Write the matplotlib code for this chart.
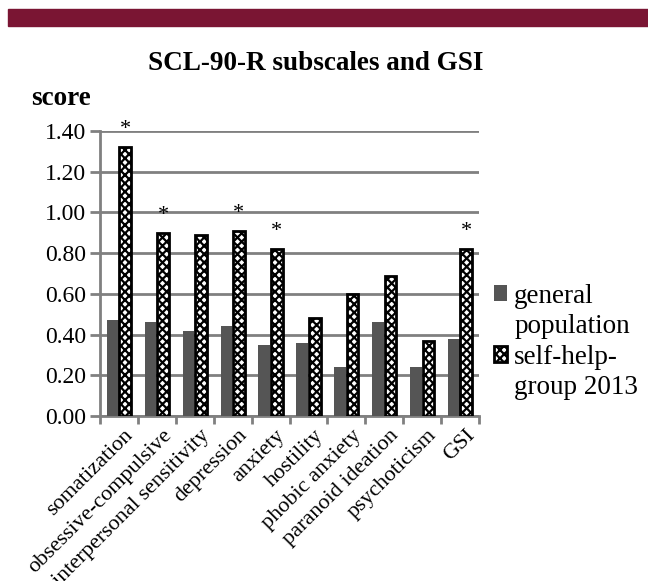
import numpy as np
import matplotlib.pyplot as plt
import matplotlib.transforms as mtrans
from matplotlib.patches import Rectangle, Patch

# dados
categorias = ['somatization', 'obsessive-compulsive', 'interpersonal sensitivity',
              'depression', 'anxiety', 'hostility', 'phobic anxiety',
              'paranoid ideation', 'psychoticism', 'GSI']
geral = [0.47, 0.46, 0.42, 0.44, 0.35, 0.36, 0.24, 0.46, 0.24, 0.38]
autoajuda = [1.32, 0.90, 0.89, 0.91, 0.82, 0.48, 0.60, 0.69, 0.37, 0.82]
signif = [True, True, False, True, True, False, False, False, False, True]
yticks = [0.0, 0.2, 0.4, 0.6, 0.8, 1.0, 1.2, 1.4]
series = [['general', 'population'], ['self-help-', 'group 2013']]

plt.rcParams['font.family'] = 'Liberation Serif'
plt.rcParams['hatch.linewidth'] = 1.6

fig = plt.figure(figsize=(6.48, 5.81), dpi=100)
fig.patches.append(Rectangle((8/648, 1-26/581), 1, 17/581, transform=fig.transFigure,
                             color='#7a1533', zorder=0))

ax = fig.add_axes([100/648, 1-416/581, 379/648, 285/581])
x = np.arange(len(categorias))
w = 0.31

ax.bar(x - 0.165, geral, w, color='#555555', zorder=3)
ax.bar(x + 0.165, autoajuda, w, color='white', edgecolor='black', hatch='xxxx',
       linewidth=2, zorder=3)

for i in range(len(x)):
    if signif[i]:
        ax.text(x[i] + 0.165, autoajuda[i] + 0.04, '*', ha='center', va='bottom',
                fontsize=16, clip_on=False)

ax.set_xlim(-0.5, len(x) - 0.5)
ax.set_ylim(0, 1.4)
ax.set_yticks(yticks)
ax.set_yticklabels(['%.2f' % v for v in yticks], fontsize=17)
ax.yaxis.grid(True, color='#808080', linewidth=2, zorder=0)
ax.set_axisbelow(True)

ax.set_xticks(x)
ax.set_xticklabels(categorias, rotation=45, ha='right', va='top',
                   rotation_mode='anchor', fontsize=16)
ax.tick_params(axis='x', length=0, pad=0)
desloc = mtrans.ScaledTranslation(5/100, -10/100, fig.dpi_scale_trans)
for lab in ax.get_xticklabels():
    lab.set_transform(lab.get_transform() + desloc)
ax.set_xticks(np.arange(-0.5, len(x), 1), minor=True)
ax.tick_params(axis='x', which='minor', length=6, width=2, color='#808080')
ax.tick_params(axis='y', length=7, width=2, color='#808080', pad=3)

for s in ['top', 'right']:
    ax.spines[s].set_visible(False)
for s in ['left', 'bottom']:
    ax.spines[s].set_color('#808080')
    ax.spines[s].set_linewidth(2)

fig.text(316/648, 1-63/581, 'SCL-90-R subscales and GSI', ha='center', va='center',
         fontsize=19.5, fontweight='bold')
fig.text(31/648, 1-105/581, 'score', ha='left', va='baseline', fontsize=19.5,
         fontweight='bold')

# legenda: uma linha por entrada, quadrado so na primeira linha
vazio = Patch(facecolor='none', edgecolor='none')
handles = [Patch(facecolor='#555555'), vazio,
           Patch(facecolor='white', edgecolor='black', hatch='xxxx', linewidth=2), vazio]
labels = [series[0][0], series[0][1], series[1][0], series[1][1]]
ax.legend(handles, labels, loc='center left', bbox_to_anchor=(0.975, 0.26), frameon=False,
          fontsize=19.5, handlelength=0.5, handleheight=0.5, handletextpad=0.25,
          labelspacing=0.2)

fig.savefig('out.png', dpi=100)
